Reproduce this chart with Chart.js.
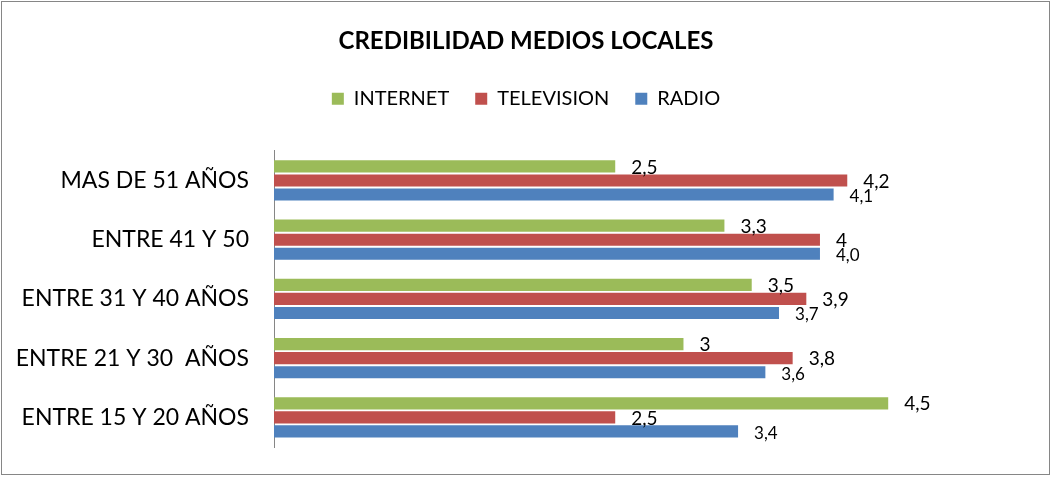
<!DOCTYPE html>
<html>
<head>
<meta charset="utf-8">
<script src="https://cdn.jsdelivr.net/npm/chart.js@4/dist/chart.umd.min.js"></script>
<style>
    body { margin: 0; background: #fff; }
    #wrap { width: 1052px; height: 477px; }
</style>
</head>
<body>
<div id="wrap"><canvas id="chart" width="1052" height="477"></canvas></div>
<script>
// datos
var categories = ['MAS DE 51 AÑOS', 'ENTRE 41 Y 50', 'ENTRE 31 Y 40 AÑOS', 'ENTRE 21 Y 30  AÑOS', 'ENTRE 15 Y 20 AÑOS'];
var seriesNames = ['INTERNET', 'TELEVISION', 'RADIO'];
var internetValues = [2.5, 3.3, 3.5, 3.0, 4.5];
var televisionValues = [4.2, 4.0, 3.9, 3.8, 2.5];
var radioValues = [4.1, 4.0, 3.7, 3.6, 3.4];
// etiquetas tal como aparecen (formato inconsistente en el original)
var internetLabels = ['2,5', '3,3', '3,5', '3', '4,5'];
var televisionLabels = ['4,2', '4', '3,9', '3,8', '2,5'];
var radioLabels = ['4,1', '4,0', '3,7', '3,6', '3,4'];

var FONT = 'Lato, "Open Sans", sans-serif';

// marco gris alrededor del grafico
var framePlugin = {
    id: 'frame',
    beforeDraw: function (chart) {
        var ctx = chart.ctx;
        ctx.save();
        ctx.fillStyle = '#fff';
        ctx.fillRect(0, 0, chart.width, chart.height);
        ctx.strokeStyle = '#868686';
        ctx.lineWidth = 1;
        ctx.strokeRect(1.5, 1.5, chart.width - 4, chart.height - 4);
        ctx.restore();
    }
};

// etiquetas de valor al final de cada barra
var valueLabelPlugin = {
    id: 'valueLabels',
    afterDatasetsDraw: function (chart) {
        var ctx = chart.ctx;
        ctx.save();
        ctx.fillStyle = '#000';
        ctx.textAlign = 'left';
        ctx.textBaseline = 'middle';
        chart.data.datasets.forEach(function (ds, i) {
            var meta = chart.getDatasetMeta(i);
            var size = i === 2 ? 17 : 19;
            var dy = i === 2 ? 2 : 1;
            ctx.font = size + 'px ' + FONT;
            meta.data.forEach(function (bar, j) {
                ctx.fillText(ds.valueLabels[j], bar.x + 16, bar.y + dy);
            });
        });
        ctx.restore();
    }
};

var ctx = document.getElementById('chart').getContext('2d');
new Chart(ctx, {
    type: 'bar',
    data: {
        labels: categories,
        datasets: [
            {
                label: seriesNames[0],
                data: internetValues,
                valueLabels: internetLabels,
                backgroundColor: '#9BBB59'
            },
            {
                label: seriesNames[1],
                data: televisionValues,
                valueLabels: televisionLabels,
                backgroundColor: '#C0504D'
            },
            {
                label: seriesNames[2],
                data: radioValues,
                valueLabels: radioLabels,
                backgroundColor: '#4F81BD'
            }
        ]
    },
    options: {
        indexAxis: 'y',
        responsive: false,
        animation: false,
        events: [],
        categoryPercentage: 0.71,
        barPercentage: 0.86,
        layout: {
            padding: { left: 0, right: 0, top: 0, bottom: 30 }
        },
        plugins: {
            title: {
                display: true,
                text: 'CREDIBILIDAD MEDIOS LOCALES',
                color: '#000',
                font: { family: FONT, size: 24, weight: 'bold' },
                padding: { top: 27, bottom: 7 }
            },
            legend: {
                display: true,
                position: 'top',
                labels: {
                    color: '#000',
                    font: { family: FONT, size: 20 },
                    boxWidth: 12,
                    boxHeight: 12,
                    padding: 26
                }
            },
            tooltip: { enabled: false }
        },
        scales: {
            x: {
                position: 'top',
                min: 0,
                max: 5.7,
                ticks: { display: false },
                grid: { display: false },
                border: { display: false },
                afterFit: function (scale) { scale.height = 32; }
            },
            y: {
                ticks: {
                    color: '#000',
                    font: { family: FONT, size: 23 },
                    padding: 0
                },
                grid: {
                    display: true,
                    drawOnChartArea: false,
                    drawTicks: true,
                    tickLength: 25,
                    tickColor: 'rgba(0,0,0,0)'
                },
                border: { display: true, color: '#868686', width: 1 },
                afterFit: function (scale) { scale.width = 274; }
            }
        }
    },
    plugins: [framePlugin, valueLabelPlugin]
});
</script>
</body>
</html>
